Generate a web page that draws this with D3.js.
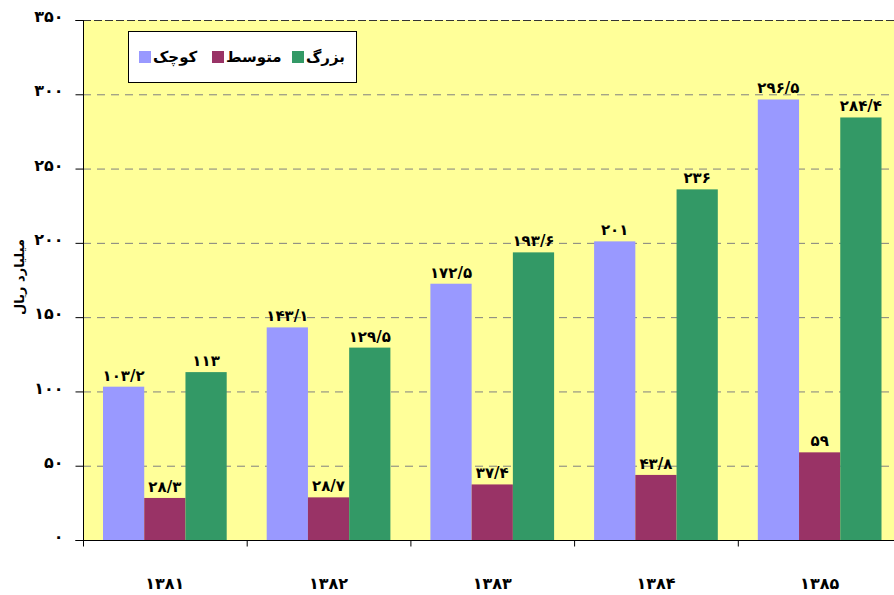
<!DOCTYPE html>
<html><head><meta charset="utf-8">
<script src="https://d3js.org/d3.v7.min.js"></script>
<style>body{margin:0;background:#fff}svg{display:block}</style>
</head><body>
<script>
const categories = ["۱۳۸۱","۱۳۸۲","۱۳۸۳","۱۳۸۴","۱۳۸۵"];
const seriesNames = ["کوچک","متوسط","بزرگ"];
const small  = [103.2, 143.1, 172.5, 201, 296.5];
const medium = [28.3, 28.7, 37.4, 43.8, 59];
const large  = [113, 129.5, 193.6, 236, 284.4];
const yTicks = [0,50,100,150,200,250,300,350];
const colors = ["#9999FF","#993366","#339966"];
const yTitle = "میلیارد ریال";

(function(){
const W=894,H=595;
const faDigits = s => String(s).replace(/\d/g,d=>"۰۱۲۳۴۵۶۷۸۹"[+d]).replace(".","/");
const svg=d3.select("body").append("svg").attr("width",W).attr("height",H);
const font="DejaVu Sans";
const pLeft=83, pTop=20, pBottom=540, band=163.7;
const x=d3.scaleBand().domain(categories).range([pLeft,pLeft+band*5]).padding(0);
const inner=d3.scaleBand().domain(seriesNames).range([20,band-20]).padding(0);
const y=d3.scaleLinear().domain([0,350]).range([pBottom,pTop]);

svg.append("rect").attr("x",pLeft).attr("y",pTop).attr("width",band*5).attr("height",pBottom-pTop).attr("fill","#FFFF99");
svg.append("g").selectAll("line").data(yTicks.filter(t=>t>0&&t<350)).join("line")
  .attr("x1",pLeft).attr("x2",pLeft+band*5).attr("y1",d=>y(d)+0.5).attr("y2",d=>y(d)+0.5)
  .attr("stroke","#808080").attr("stroke-width",1).attr("stroke-dasharray","8,6");
svg.append("line").attr("x1",pLeft).attr("x2",pLeft+band*5).attr("y1",pTop+0.5).attr("y2",pTop+0.5)
  .attr("stroke","#333").attr("stroke-width",1.2).attr("stroke-dasharray","8,3");

const series=[small,medium,large];
const g=svg.append("g");
series.forEach((vals,si)=>{
  g.append("g").selectAll("rect").data(vals).join("rect")
   .attr("x",(d,i)=>x(categories[i])+inner(seriesNames[si]))
   .attr("width",inner.bandwidth())
   .attr("y",d=>y(d)).attr("height",d=>pBottom-y(d))
   .attr("fill",colors[si]);
  g.append("g").selectAll("text").data(vals).join("text")
   .attr("x",(d,i)=>x(categories[i])+inner(seriesNames[si])+inner.bandwidth()/2)
   .attr("y",d=>y(d)-6)
   .attr("text-anchor","middle").attr("font-family",font).attr("font-weight","bold").attr("font-size",15)
   .text(d=>faDigits(d));
});

const yAxis=d3.axisLeft(y).tickValues(yTicks).tickSize(8).tickPadding(12).tickFormat(faDigits);
const ya=svg.append("g").attr("transform",`translate(${pLeft+0.5},0)`).call(yAxis);
ya.selectAll("text").attr("font-family",font).attr("font-weight","bold").attr("font-size",16).attr("dy","0.1em").attr("fill","#000");
ya.selectAll("line").attr("stroke","#000");
ya.select(".domain").attr("stroke","#000").attr("d",`M-8,${pTop+0.5}H0V${pBottom+0.5}H-8`);

const xa=svg.append("g").attr("transform",`translate(0,${pBottom+0.5})`);
xa.append("line").attr("x1",pLeft).attr("x2",W).attr("stroke","#000");
xa.selectAll("line.t").data(categories).join("line").attr("class","t")
  .attr("x1",d=>x(d)+0.5).attr("x2",d=>x(d)+0.5).attr("y1",0).attr("y2",6).attr("stroke","#000");
xa.selectAll("text").data(categories).join("text")
  .attr("x",d=>x(d)+band/2).attr("y",48).attr("text-anchor","middle")
  .attr("font-family",font).attr("font-weight","bold").attr("font-size",16).text(d=>d);

svg.append("text").attr("transform","translate(24,277) rotate(-90)").attr("text-anchor","middle")
  .attr("font-family",font).attr("font-weight","bold").attr("font-size",13).text(yTitle);

const lg=svg.append("g");
lg.append("rect").attr("x",128.5).attr("y",31.5).attr("width",228).attr("height",51).attr("fill","#fff").attr("stroke","#000");
const lx=[139,212,292];
seriesNames.forEach((n,i)=>{
  lg.append("rect").attr("x",lx[i]).attr("y",51).attr("width",12).attr("height",12).attr("fill",colors[i]);
  lg.append("text").attr("x",lx[i]+14).attr("y",62).attr("font-family",font).attr("font-weight","bold").attr("font-size",15).text(n);
});
})();
</script>
</body></html>
